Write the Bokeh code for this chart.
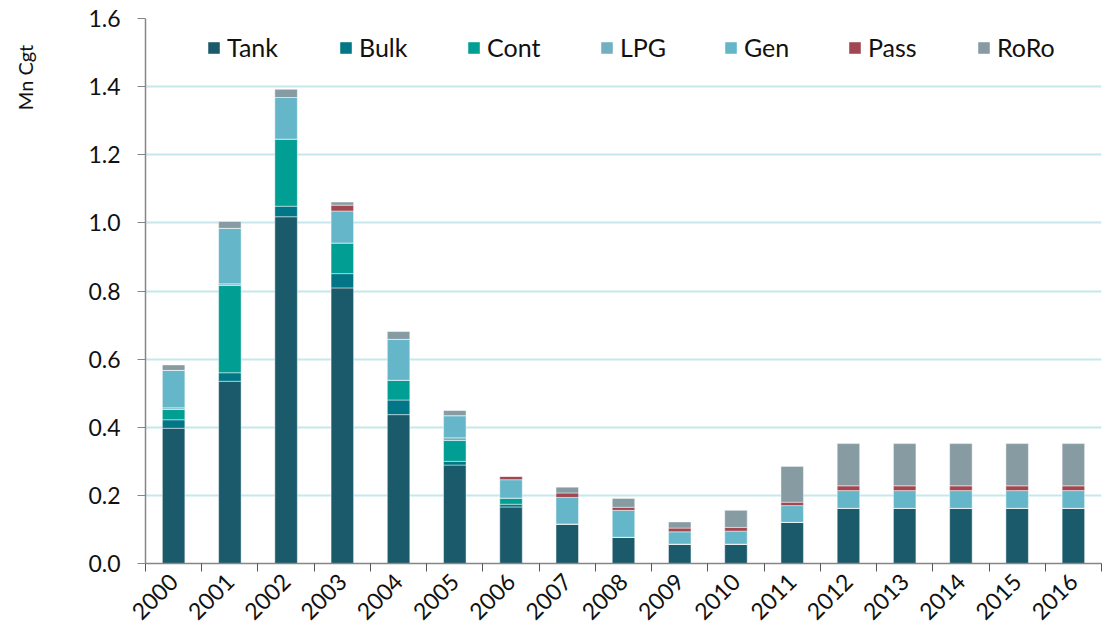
from bokeh.plotting import figure
from bokeh.models import (FixedTicker, NumeralTickFormatter, Legend, LegendItem,
                          LinearAxis, Range1d)
from bokeh.embed import file_html
from bokeh.resources import INLINE

years = list(range(2000, 2017))
categories = ["Tank", "Bulk", "Cont", "LPG", "Gen", "Pass", "RoRo"]
tank = [0.397, 0.535, 1.018, 0.809, 0.437, 0.289, 0.166, 0.116, 0.077, 0.057, 0.057,
        0.121, 0.162, 0.162, 0.162, 0.162, 0.162]
bulk = [0.025, 0.025, 0.031, 0.042, 0.043, 0.011, 0.008, 0, 0, 0, 0, 0, 0, 0, 0, 0, 0]
cont = [0.030, 0.256, 0.197, 0.090, 0.058, 0.061, 0.018, 0, 0, 0, 0, 0, 0, 0, 0, 0, 0]
lpg = [0.005, 0.005, 0, 0, 0, 0.008, 0, 0, 0, 0, 0, 0, 0, 0, 0, 0, 0]
gen = [0.110, 0.163, 0.122, 0.094, 0.120, 0.065, 0.054, 0.078, 0.079, 0.036, 0.038,
       0.049, 0.052, 0.052, 0.052, 0.052, 0.052]
pas = [0, 0, 0, 0.017, 0, 0, 0.010, 0.013, 0.009, 0.011, 0.011, 0.010, 0.014, 0.014,
       0.014, 0.014, 0.014]
roro = [0.016, 0.020, 0.024, 0.009, 0.023, 0.015, 0, 0.017, 0.026, 0.018, 0.050,
        0.105, 0.124, 0.124, 0.124, 0.124, 0.124]
colors = ["#1b5a6b", "#007686", "#009e93", "#73afc2", "#65b6c9", "#a2464f", "#879ba3"]
y_ticks = [0.0, 0.2, 0.4, 0.6, 0.8, 1.0, 1.2, 1.4, 1.6]
y_title = "Mn Cgt"

data = dict(year=years, Tank=tank, Bulk=bulk, Cont=cont, LPG=lpg, Gen=gen,
            Pass=pas, RoRo=roro)

FONT = "Lato"

p = figure(frame_width=956, frame_height=545, output_backend="svg",
           toolbar_location=None, x_range=Range1d(1999.5, 2016.5),
           y_range=Range1d(0, 1.6), min_border_left=145, min_border_top=18,
           min_border_bottom=66, min_border_right=2)
p.outline_line_color = None
p.background_fill_color = "white"

renderers = p.vbar_stack(categories, x="year", width=0.4, source=data, color=colors,
                         line_color="white", line_alpha=0.45, line_width=1)

# axes
p.yaxis.ticker = FixedTicker(ticks=y_ticks)
p.yaxis.formatter = NumeralTickFormatter(format="0.0")
p.yaxis.axis_line_color = "#868686"
p.yaxis.axis_line_width = 1.5
p.yaxis.major_tick_line_color = "#868686"
p.yaxis.major_tick_out = 8
p.yaxis.major_tick_in = 0
p.yaxis.minor_tick_line_color = None
p.yaxis.major_label_text_font = FONT
p.yaxis.major_label_text_font_size = "23px"
p.yaxis.major_label_text_color = "#111111"
p.yaxis.major_label_standoff = 17

# axis title placed near the top, as an extra tickless axis carrying one label
title_pos = 1.427
title_axis = LinearAxis(ticker=FixedTicker(ticks=[title_pos]),
                        major_label_overrides={title_pos: y_title},
                        major_label_orientation="vertical",
                        axis_line_color=None, major_tick_line_color=None,
                        minor_tick_line_color=None, major_label_standoff=42,
                        major_label_text_font=FONT, major_label_text_font_size="20px",
                        major_label_text_color="#111111")
p.add_layout(title_axis, "left")

p.xaxis.ticker = FixedTicker(ticks=years, minor_ticks=[y + 0.5 for y in range(1999, 2017)])
p.xaxis.axis_line_color = "#868686"
p.xaxis.axis_line_width = 1.5
p.xaxis.major_tick_line_color = None
p.xaxis.minor_tick_line_color = "#555555"
p.xaxis.minor_tick_out = 8
p.xaxis.minor_tick_in = 0
p.xaxis.major_label_orientation = 0.785
p.xaxis.major_label_text_font = FONT
p.xaxis.major_label_text_font_size = "23px"
p.xaxis.major_label_text_color = "#111111"
p.xaxis.major_label_standoff = 6

p.xgrid.grid_line_color = None
p.ygrid.grid_line_color = "#c6e7ec"
p.ygrid.grid_line_width = 2

# legend: one legend per item to reproduce even spacing
legend_x = [61, 193, 321, 454, 578, 702, 831]
for name, r, lx in zip(categories, renderers, legend_x):
    lg = Legend(items=[LegendItem(label=name, renderers=[r])], location=(lx, 501),
                orientation="horizontal", glyph_width=15, glyph_height=15,
                label_text_font=FONT, label_text_font_size="25px",
                label_text_color="#111111", label_standoff=6, padding=0, margin=0,
                border_line_color=None, background_fill_alpha=0)
    p.add_layout(lg)

open("out.html", "w").write(file_html(p, INLINE))
